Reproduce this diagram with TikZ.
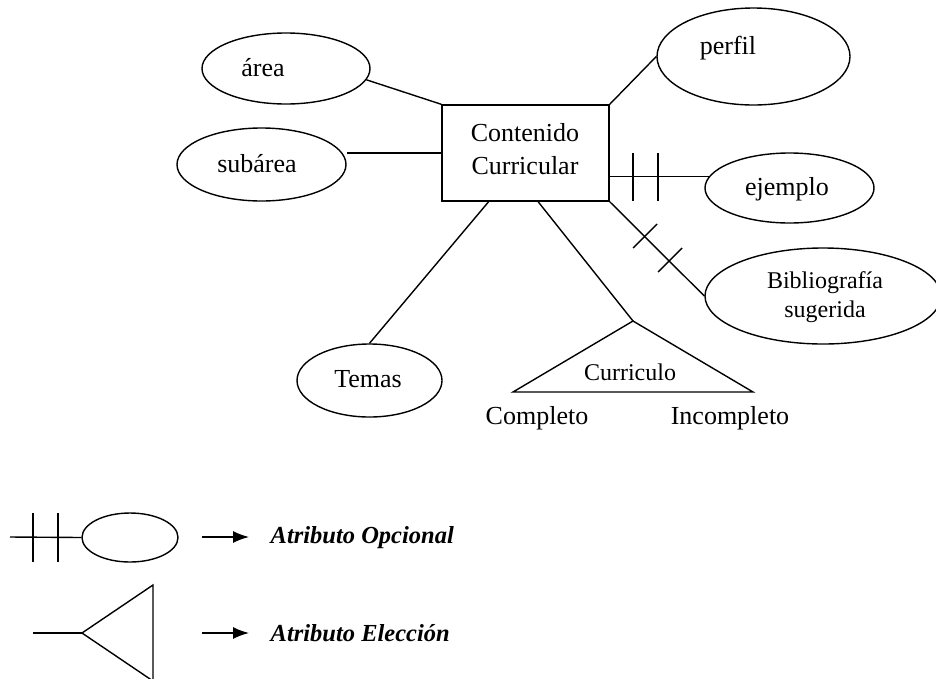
\documentclass[tikz,border=0pt]{standalone}
\usepackage{fontspec}
\setmainfont{Liberation Serif}
\usetikzlibrary{calc,arrows.meta,shapes.geometric}
\begin{document}
\begin{tikzpicture}[x=1pt,y=-1pt, line width=1.4pt,
  attr/.style={draw, ellipse, inner sep=0pt},
  lbl/.style={inner sep=0pt, font=\fontsize{26}{33}\selectfont, align=center},
  slbl/.style={inner sep=0pt, font=\fontsize{24}{29}\selectfont, align=center},
  leg/.style={inner sep=0pt, anchor=west, font=\fontsize{24.5}{29}\selectfont\bfseries\itshape},
  arr/.style={-{Latex[length=16pt,width=12pt]}}]
\useasboundingbox (0,0) rectangle (936,678);
\clip (0,0) rectangle (936,678);

% entity
\node[draw, minimum width=167pt, minimum height=96pt, inner sep=0pt] (box) at (525.5,153) {};
\node[lbl] (boxt) at (525,149) {Contenido\\Curricular};

% attributes
\node[attr, minimum width=168pt, minimum height=71pt] (area) at (286,68.5) {};
\node[lbl] (areat) at (263,68) {área};
\node[attr, minimum width=169pt, minimum height=73pt] (subarea) at (261.5,164.5) {};
\node[lbl] (subareat) at (257,164) {subárea};
\node[attr, minimum width=193pt, minimum height=97pt] (perfil) at (753.5,56.5) {};
\node[lbl] (perfilt) at (728,48) {perfil};
\node[attr, minimum width=169pt, minimum height=70pt] (ejemplo) at (789.5,188) {};
\node[lbl] (ejemplot) at (787,189) {ejemplo};
\node[attr, minimum width=236pt, minimum height=96pt] (bib) at (823,296) {};
\node[slbl] (bibt) at (825,297) {Bibliografía\\sugerida};
\node[attr, minimum width=145pt, minimum height=73pt] (temas) at (369.5,380.5) {};
\node[lbl] (temast) at (368,379) {Temas};

% choice attribute (triangle)
\coordinate (apex) at (633,321);
\coordinate (bl) at (513,392);
\coordinate (br) at (753,392);
\draw (apex) -- (bl) -- (br) -- cycle;
\node[slbl] (curt) at (630,372) {Curriculo};
\node[lbl] (comp) at (537,418) {Completo};
\node[lbl] (incomp) at (730,418) {Incompleto};

% connectors
\draw (box.north west) -- (area.-8);
\draw (box.west) -- (box.west -| subarea.east);
\draw (box.north east) -- (perfil.west);
\draw (ejemplo.172) -- (ejemplo.172 -| box.east);
\draw (box.south east) -- (bib.west);
\draw ($(box.south west)!0.281!(box.south east)$) -- (temas.north);
\draw ($(box.south west)!0.575!(box.south east)$) -- (apex);

% optional marks
\draw (633,153) -- (633,201);
\draw (658,153) -- (658,201);
\draw (633,248) -- (657,224);
\draw (658,272) -- (682,248);

% legend: optional attribute
\coordinate (l1a) at (10,537);
\node[attr, minimum width=96pt, minimum height=49pt] (legell) at (130,537.5) {};
\draw (l1a) -- (legell.west);
\draw (33,513) -- (33,562);
\draw (58,513) -- (58,562);
\coordinate (a1s) at (202,537);
\node[leg] (opc) at (270,538) {Atributo Opcional};
\draw[arr] (a1s) -- (249,537);

% legend: choice attribute
\coordinate (l2a) at (33,633);
\coordinate (t2a) at (82,633);
\coordinate (t2b) at (153,585);
\coordinate (t2c) at (153,681);
\draw (l2a) -- (t2a);
\draw (t2b) -- (t2a) -- (t2c) -- cycle;
\coordinate (a2s) at (202,633);
\node[leg] (ele) at (270,633) {Atributo Elección};
\draw[arr] (a2s) -- (249,633);
\end{tikzpicture}
\end{document}
